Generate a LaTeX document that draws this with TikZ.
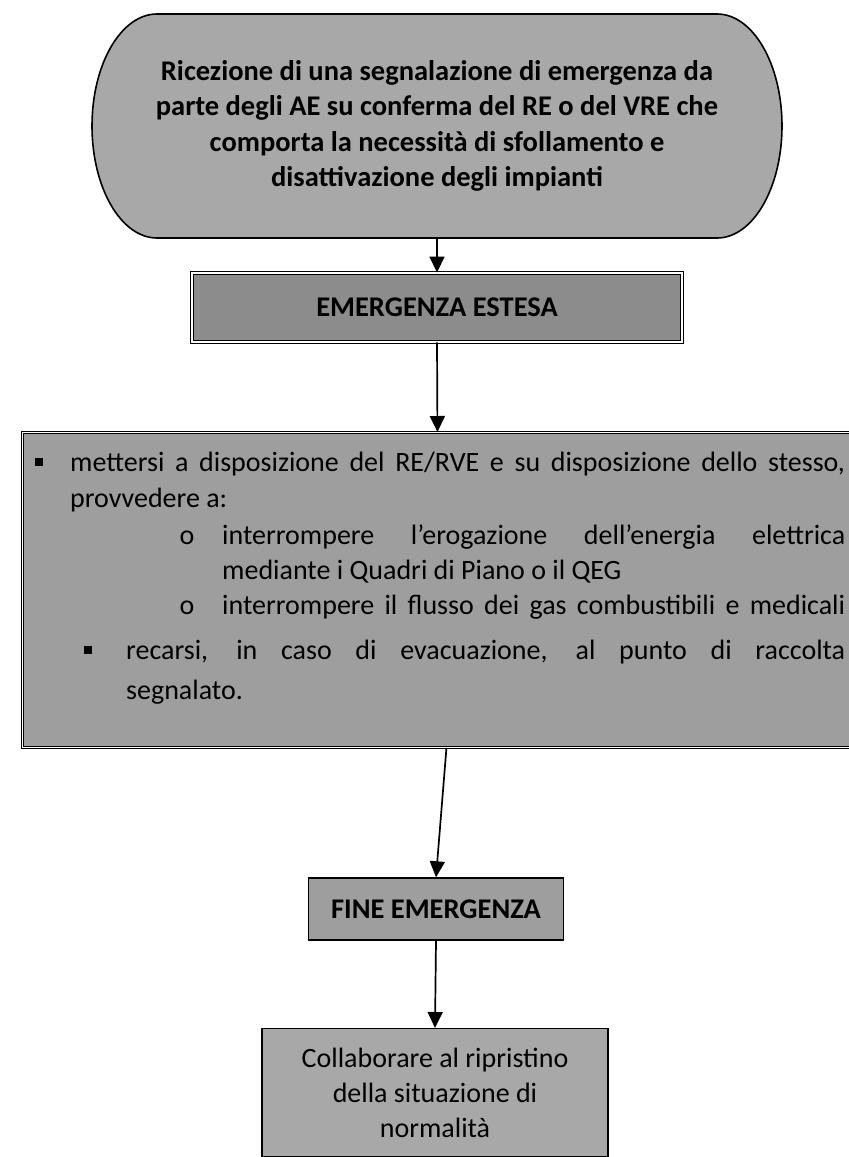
\documentclass[tikz,border=0pt]{standalone}
\usepackage{fontspec}
\setmainfont{Carlito}
\usetikzlibrary{arrows.meta}
\definecolor{fillA}{gray}{0.66}
\definecolor{fillB}{gray}{0.55}
\definecolor{fillC}{gray}{0.62}
\tikzset{
  bigfont/.style={font=\fontsize{28}{35}\selectfont},
  boldfont/.style={font=\fontsize{28.5}{35.5}\selectfont\bfseries},
  box/.style={draw=black, inner sep=0pt, text=black},
  conn/.style={draw=black, line width=1.7pt, -{Triangle[length=16pt,width=15pt]}},
  txt/.style={bigfont, inner sep=0pt, anchor=base west},
  sqbullet/.style={fill=black, minimum size=8pt, inner sep=0pt},
  obullet/.style={bigfont, inner sep=0pt, anchor=base},
}
\begin{document}
\begin{tikzpicture}[x=1pt,y=-1pt]
\useasboundingbox (0,0) rectangle (849,1157);
% start terminator
\path[fill=fillA, draw=black, line width=1.6pt]
  (157,14) -- (717,14) arc[start angle=-90, end angle=90, x radius=65, y radius=112]
  -- (157,238) arc[start angle=90, end angle=270, x radius=65, y radius=112] -- cycle;
\node[boldfont, align=center, inner sep=0pt, minimum width=690pt, minimum height=224pt] (start) at (437,126)
  {Ricezione di una segnalazione di emergenza da\\ parte degli AE su conferma del RE o del VRE che\\ comporta la necessità di sfollamento e\\ disattivazione degli impianti};
% emergenza estesa
\node[box, boldfont, fill=fillB, line width=0.9pt, double, double distance=1.6pt, minimum width=490pt, minimum height=69pt] (ext) at (437,307.5) {EMERGENZA ESTESA};
% big box
\node[box, fill=fillC, line width=0.9pt, double, double distance=1.6pt, minimum width=830pt, minimum height=315pt, anchor=north west] (big) at (22,432) {};
\node[sqbullet] (b1) at (39,462) {};
\node[txt] (l1) at (70,471) {\makebox[775pt][s]{mettersi a disposizione del RE/RVE e su disposizione dello stesso,}};
\node[txt] (l2) at (70,507) {provvedere a:};
\node[obullet] (o1) at (187,544) {o};
\node[txt] (l3) at (222,544) {\makebox[623pt][s]{interrompere l'erogazione dell'energia elettrica}};
\node[txt] (l4) at (222,579) {mediante i Quadri di Piano o il QEG};
\node[obullet] (o2) at (187,614) {o};
\node[txt] (l5) at (222,614) {\makebox[623pt][s]{interrompere il flusso dei gas combustibili e medicali}};
\node[sqbullet] (b2) at (88,650) {};
\node[txt] (l6) at (126,659) {\makebox[719pt][s]{recarsi, in caso di evacuazione, al punto di raccolta}};
\node[txt] (l7) at (126,699) {segnalato.};
% fine emergenza
\node[box, boldfont, fill=fillC, line width=1.4pt, minimum width=255pt, minimum height=62pt] (fine) at (436,909) {FINE EMERGENZA};
% last
\node[box, bigfont, fill=fillA, line width=1.2pt, align=center, minimum width=346pt, minimum height=128pt, anchor=north] (last) at (435,1028)
  {Collaborare al ripristino\\ della situazione di\\ normalità};
% connectors
\draw[conn] (start.south) -- (ext.north);
\draw[conn] (ext.south) -- (big.north);
\draw[conn] ([xshift=9pt]big.south) -- (fine.north);
\draw[conn] (fine.south) -- (last.north);
\end{tikzpicture}
\end{document}
